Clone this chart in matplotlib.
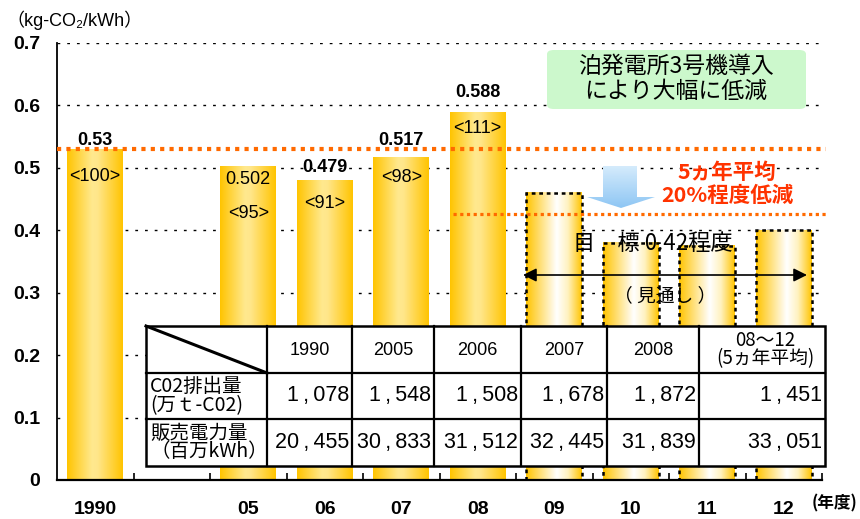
import matplotlib
matplotlib.use("Agg")
import matplotlib.pyplot as plt
import numpy as np
from matplotlib.patches import FancyBboxPatch, Polygon, Rectangle
from matplotlib.lines import Line2D
from matplotlib.colors import LinearSegmentedColormap

# ---- data ----
years = ["1990", "05", "06", "07", "08", "09", "10", "11", "12"]
actual = [0.53, 0.502, 0.479, 0.517, 0.588]
index_labels = ["<100>", "<95>", "<91>", "<98>", "<111>"]
outlook = [0.46, 0.38, 0.375, 0.40]
base_1990 = 0.53
target = 0.426

table_cols = ["1990", "2005", "2006", "2007", "2008", "08～12\n(5ヵ年平均)"]
co2_emission = [1078, 1548, 1508, 1678, 1872, 1451]
power_sales = [20455, 30833, 31512, 32445, 31839, 33051]
row_labels = ["C02排出量\n(万ｔ-C02)", "販売電力量\n（百万kWh）"]

JP = ["Noto Sans CJK JP", "DejaVu Sans"]
LAT = ["Liberation Sans", "Noto Sans CJK JP", "DejaVu Sans"]

W, H = 860, 519
fig = plt.figure(figsize=(W / 100, H / 100), dpi=100)

# axes box in pixels (left, right, bottom, top)
L, R, B, T = 57, 822, 480, 43
ax = fig.add_axes([L / W, 1 - B / H, (R - L) / W, (B - T) / H])
XMIN, XMAX, YMAX = -0.5, 9.5, 0.7


def px2data(px, py):
    return XMIN + (px - L) / (R - L) * (XMAX - XMIN), (B - py) / (B - T) * YMAX


def fx(px):
    return px / W


def fy(py):
    return 1 - py / H


slots = np.array([0] + list(range(2, 2 + len(years) - 1)))
bw = 0.73

gold = LinearSegmentedColormap.from_list(
    "gold", [(0, "#FFC400"), (0.45, "#FFE98F"), (0.55, "#FFE68A"), (1, "#FFC400")])
fade = LinearSegmentedColormap.from_list(
    "fade", [(0, "#FFC400"), (0.55, "#FFFFFF"), (0.75, "#FFF2C0"), (1, "#FFC400")])
grad = np.linspace(0, 1, 256)[np.newaxis, :]

# grid
for g in np.arange(0.1, 0.71, 0.1):
    ax.axhline(g, color="black", lw=1.0, ls=(0, (2, 5)), zorder=1)

# actual bars
for x, h in zip(slots[:len(actual)], actual):
    ax.imshow(grad, cmap=gold, extent=(x - bw / 2, x + bw / 2, 0, h),
              aspect="auto", zorder=2, interpolation="bicubic")

# outlook bars
for x, h in zip(slots[len(actual):], outlook):
    ax.imshow(grad, cmap=fade, extent=(x - bw / 2, x + bw / 2, 0, h),
              aspect="auto", zorder=2, interpolation="bicubic")
ax.bar(slots[len(actual):], outlook, width=bw, fill=False, edgecolor="black",
       lw=1.8, ls=(0, (1.5, 1.5)), zorder=3)

ax.set_xlim(XMIN, XMAX)
ax.set_ylim(0, YMAX)

# value labels (offsets in points from the bar top)
value_off = [6.5, -9.5, 10, 12, 14.5]
index_off = [-20, -34, -16, -14.5, -11]
for i, (x, h) in enumerate(zip(slots[:len(actual)], actual)):
    ax.annotate(str(h), (x, h), xytext=(0, value_off[i]), textcoords="offset points",
                ha="center", va="center", fontsize=13, family=LAT,
                fontweight="normal" if i == 1 else "bold", zorder=5,
                annotation_clip=False)
    ax.annotate(index_labels[i], (x, h), xytext=(0, index_off[i]),
                textcoords="offset points", ha="center", va="center", fontsize=13,
                family=LAT, zorder=5)

# reference lines
ax.plot([XMIN, XMAX + 0.05], [base_1990, base_1990], color="#FF6A00", lw=3.0,
        ls=(0, (1, 1.25)), solid_capstyle="butt", dash_capstyle="butt",
        zorder=4, clip_on=False)
x0, _ = px2data(453, 0)
ax.plot([x0, XMAX + 0.05], [target, target], color="#FF6A00", lw=2.3,
        ls=(0, (1, 1.1)), dash_capstyle="butt", zorder=4, clip_on=False)

# axes styling
for s in ["top", "right"]:
    ax.spines[s].set_visible(False)
ax.spines["left"].set_linewidth(1.3)
ax.spines["bottom"].set_linewidth(1.6)
ax.set_yticks(np.arange(0, 0.71, 0.1))
ax.set_yticklabels(["0"] + [f"{v:.1f}" for v in np.arange(0.1, 0.71, 0.1)])
ax.set_xticks(slots)
ax.set_xticklabels(years)
ax.set_xticks(np.arange(XMIN + 1, XMAX + 0.01, 1), minor=True)
ax.tick_params(axis="y", length=0, pad=12, labelsize=14)
ax.tick_params(axis="x", which="major", length=0, pad=15, labelsize=14)
ax.tick_params(axis="x", which="minor", direction="in", length=5, width=1.2)
for lab in ax.get_xticklabels() + ax.get_yticklabels():
    lab.set_fontweight("bold")
    lab.set_family(LAT)

# units
fig.text(fx(6), fy(20), "（kg-CO₂/kWh）", fontsize=13, family=LAT, ha="left", va="center")
fig.text(fx(857), fy(503), "(年度)", fontsize=12, family=JP, ha="right", va="center",
         fontweight="bold")

# green note box
box = FancyBboxPatch((fx(547), fy(109)), fx(806) - fx(547), fy(50) - fy(109),
                     boxstyle="round,pad=0,rounding_size=0.008",
                     transform=fig.transFigure, facecolor="#CCF8CC", edgecolor="none",
                     zorder=6)
fig.add_artist(box)
fig.text(fx(676), fy(79), "泊発電所3号機導入\nにより大幅に低減", fontsize=16.5, family=JP,
         ha="center", va="center", linespacing=1.15, zorder=7)

# blue arrow
pts = [px2data(p, q) for p, q in [(603, 166), (637, 166), (637, 197), (655, 197),
                                  (621, 208), (587, 197), (603, 197)]]
arrow = Polygon(pts, closed=True, facecolor="none", edgecolor="none", zorder=5)
ax.add_patch(arrow)
ax_x = [p[0] for p in pts]
ax_y = [p[1] for p in pts]
blue = LinearSegmentedColormap.from_list("blue", ["#8EC6F4", "#D6ECFC"])
im = ax.imshow(np.linspace(0, 1, 64)[:, np.newaxis], cmap=blue,
               extent=(min(ax_x), max(ax_x), min(ax_y), max(ax_y)),
               aspect="auto", zorder=5, origin="lower")
im.set_clip_path(arrow)
ax.set_xlim(XMIN, XMAX)
ax.set_ylim(0, YMAX)

fig.text(fx(727), fy(184), "5ヵ年平均\n20%程度低減", fontsize=15.5, family=JP,
         color="#FF3300", fontweight="bold", ha="center", va="center", linespacing=1.1)
fig.text(fx(653), fy(243), "目　標 0.42程度", fontsize=16, family=JP,
         ha="center", va="center", zorder=6)

# double arrow
a0 = px2data(523, 275)
a1 = px2data(807, 275)
ax.annotate("", xy=a1, xytext=a0, arrowprops=dict(arrowstyle="<|-|>", color="black",
            lw=1.2, mutation_scale=20, shrinkA=0, shrinkB=0), annotation_clip=False,
            zorder=6)
fig.text(fx(665), fy(296), "（ 見通し ）", fontsize=13.5, family=JP, ha="center",
         va="center", zorder=6)

# data table
col_px = [146, 267, 352, 434, 521, 607, 699, 825]
row_px = [326, 373, 419, 466]
fig.add_artist(Rectangle((fx(col_px[0]), fy(row_px[-1])), fx(col_px[-1]) - fx(col_px[0]),
                         fy(row_px[0]) - fy(row_px[-1]), transform=fig.transFigure,
                         facecolor="white", edgecolor="black", lw=1.8, zorder=8))
for c in col_px[1:-1]:
    fig.add_artist(Line2D([fx(c), fx(c)], [fy(row_px[0]), fy(row_px[-1])],
                          transform=fig.transFigure, color="black", lw=1.6, zorder=9))
for r in row_px[1:-1]:
    fig.add_artist(Line2D([fx(col_px[0]), fx(col_px[-1])], [fy(r), fy(r)],
                          transform=fig.transFigure, color="black", lw=1.6, zorder=9))
fig.add_artist(Line2D([fx(col_px[0]), fx(col_px[1])], [fy(row_px[0]), fy(row_px[1])],
                      transform=fig.transFigure, color="black", lw=2.2, zorder=9))

for j, name in enumerate(table_cols):
    cx = (col_px[j + 1] + col_px[j + 2]) / 2
    cy = (row_px[0] + row_px[1]) / 2
    if "\n" in name:
        fig.text(fx(cx + 3), fy(cy), name, fontsize=13.5, family=JP, ha="center",
                 va="center", linespacing=0.85, zorder=10)
    else:
        fig.text(fx(cx), fy(cy + 1), name, fontsize=13, family=LAT, ha="center",
                 va="center", zorder=10)

for i, (lab, vals) in enumerate(zip(row_labels, [co2_emission, power_sales])):
    cy = (row_px[i + 1] + row_px[i + 2]) / 2
    fig.text(fx(col_px[0] + 4), fy(cy), lab, fontsize=14, family=JP, ha="left",
             va="center", linespacing=0.85, zorder=10)
    for j, v in enumerate(vals):
        s = f"{v:,}".replace(",", "\u2009,\u2009")
        fig.text(fx(col_px[j + 2] - 3), fy(cy), s, fontsize=15.5, family=LAT, ha="right",
                 va="center", zorder=10)

fig.savefig("out.png", dpi=100)
